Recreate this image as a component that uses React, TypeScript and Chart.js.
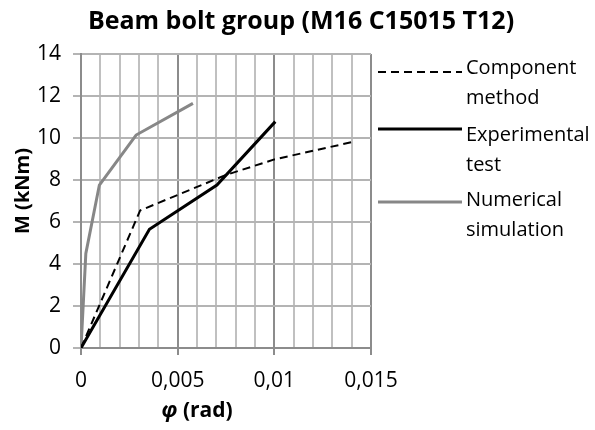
import React, { useEffect, useRef } from "react";
import { Chart, registerables } from "chart.js";

Chart.register(...registerables);

const componentX = [0, 0.00306, 0.0075, 0.01, 0.0140];
const componentY = [0, 6.55, 8.24, 8.98, 9.8];
const experimentalX = [0, 0.00354, 0.00703, 0.01005];
const experimentalY = [0, 5.65, 7.76, 10.78];
const numericalX = [0, 0.00025, 0.00095, 0.00285, 0.00579];
const numericalY = [0, 4.5, 7.76, 10.14, 11.65];

const seriesNames = [["Component", "method"], ["Experimental", "test"], ["Numerical", "simulation"]];
const xMajorTicks = [0, 0.005, 0.01, 0.015];
const xTickLabels = ["0", "0,005", "0,01", "0,015"];
const yTicks = [0, 2, 4, 6, 8, 10, 12, 14];

const titleText = "Beam bolt group (M16 C15015 T12)";
const yTitle = "M (kNm)";
const xTitleSymbol = "φ";
const xTitleRest = " (rad)";

const FONT = "'Open Sans', 'Noto Sans', sans-serif";

function toPoints(xs: number[], ys: number[]) {
  return xs.map((x, i) => ({ x, y: ys[i] }));
}

const isMajor = (v: number) => Math.round(v * 1000) % 5 === 0;

const decorPlugin = {
  id: "decor",
  afterDraw(chart: any) {
    const ctx = chart.ctx;
    const area = chart.chartArea;
    ctx.save();
    // title
    ctx.fillStyle = "#000";
    ctx.font = `bold 25px ${FONT}`;
    ctx.textAlign = "center";
    ctx.textBaseline = "middle";
    ctx.fillText(titleText, 301, 22);
    // y title
    ctx.save();
    ctx.translate(23, (area.top + area.bottom) / 2 - 10);
    ctx.rotate(-Math.PI / 2);
    ctx.font = `bold 20px ${FONT}`;
    ctx.fillText(yTitle, 0, 0);
    ctx.restore();
    // x title
    const fs = 21;
    ctx.font = `italic bold ${fs}px ${FONT}`;
    const w1 = ctx.measureText(xTitleSymbol).width;
    ctx.font = `bold ${fs}px ${FONT}`;
    const w2 = ctx.measureText(xTitleRest).width;
    const cx = 197;
    const startX = cx - (w1 + w2) / 2;
    ctx.textAlign = "left";
    ctx.font = `italic bold ${fs}px ${FONT}`;
    ctx.fillText(xTitleSymbol, startX, 411);
    ctx.font = `bold ${fs}px ${FONT}`;
    ctx.fillText(xTitleRest, startX + w1, 411);
    // legend
    const textRows = [68, 135, 200];
    const lineRows = [72, 129, 202];
    chart.data.datasets.forEach((ds: any, i: number) => {
      const y = lineRows[i];
      ctx.beginPath();
      ctx.strokeStyle = ds.borderColor;
      ctx.lineWidth = ds.borderWidth;
      ctx.setLineDash(ds.borderDash || []);
      ctx.moveTo(378, y);
      ctx.lineTo(462, y);
      ctx.stroke();
      ctx.setLineDash([]);
      ctx.fillStyle = "#000";
      ctx.font = `20px ${FONT}`;
      ctx.textAlign = "left";
      ctx.textBaseline = "middle";
      const lines = seriesNames[i];
      lines.forEach((t, j) => ctx.fillText(t, 466, textRows[i] + j * 30));
    });
    ctx.restore();
  },
};

export default function App() {
  const ref = useRef<HTMLCanvasElement | null>(null);
  useEffect(() => {
    document.body.style.margin = "0";
    const canvas = ref.current!;
    const chart = new Chart(canvas, {
      type: "scatter",
      data: {
        datasets: [
          {
            label: seriesNames[0].join(" "),
            data: toPoints(componentX, componentY),
            showLine: true,
            borderColor: "#000000",
            borderWidth: 2,
            borderDash: [8, 5],
            pointRadius: 0,
            fill: false,
          },
          {
            label: seriesNames[1].join(" "),
            data: toPoints(experimentalX, experimentalY),
            showLine: true,
            borderColor: "#000000",
            borderWidth: 3,
            pointRadius: 0,
            fill: false,
          },
          {
            label: seriesNames[2].join(" "),
            data: toPoints(numericalX, numericalY),
            showLine: true,
            borderColor: "#878787",
            borderWidth: 3,
            pointRadius: 0,
            fill: false,
          },
        ],
      },
      options: {
        animation: false,
        responsive: false,
        layout: { padding: { left: 0, right: 224, top: 54, bottom: 0 } },
        plugins: { legend: { display: false }, title: { display: false }, tooltip: { enabled: false } },
        scales: {
          x: {
            type: "linear",
            min: 0,
            max: 0.015,
            afterFit: (s: any) => { s.height = 82; },
            afterBuildTicks: (s: any) => {
              const t = [];
              for (let i = 0; i <= 15; i++) t.push({ value: i / 1000 });
              s.ticks = t;
            },
            ticks: {
              autoSkip: false,
              maxRotation: 0,
              padding: 13,
              color: "#000",
              font: { family: FONT, size: 21 },
              callback: (v: any) => {
                const idx = xMajorTicks.findIndex((m) => Math.abs(m - v) < 1e-9);
                return idx >= 0 ? xTickLabels[idx] : "";
              },
            },
            grid: {
              lineWidth: 2,
              tickLength: 7,
              color: (c: any) => (isMajor(c.tick.value) ? "#8c8c8c" : "#c0c0c0"),
              tickColor: (c: any) => (isMajor(c.tick.value) ? "#8c8c8c" : "rgba(0,0,0,0)"),
            },
            border: { color: "#8c8c8c", width: 2 },
          },
          y: {
            min: 0,
            max: 14,
            afterFit: (s: any) => { s.width = 81; },
            afterBuildTicks: (s: any) => {
              s.ticks = yTicks.map((v) => ({ value: v }));
            },
            ticks: {
              padding: 12,
              color: "#000",
              font: { family: FONT, size: 21 },
            },
            grid: {
              lineWidth: 2,
              tickLength: 8,
              color: "#b4b4b4",
              tickColor: "#b4b4b4",
            },
            border: { color: "#8c8c8c", width: 2 },
          },
        },
      },
      plugins: [decorPlugin],
    });
    return () => chart.destroy();
  }, []);
  return <canvas ref={ref} width={595} height={430} style={{ display: "block" }} />;
}
